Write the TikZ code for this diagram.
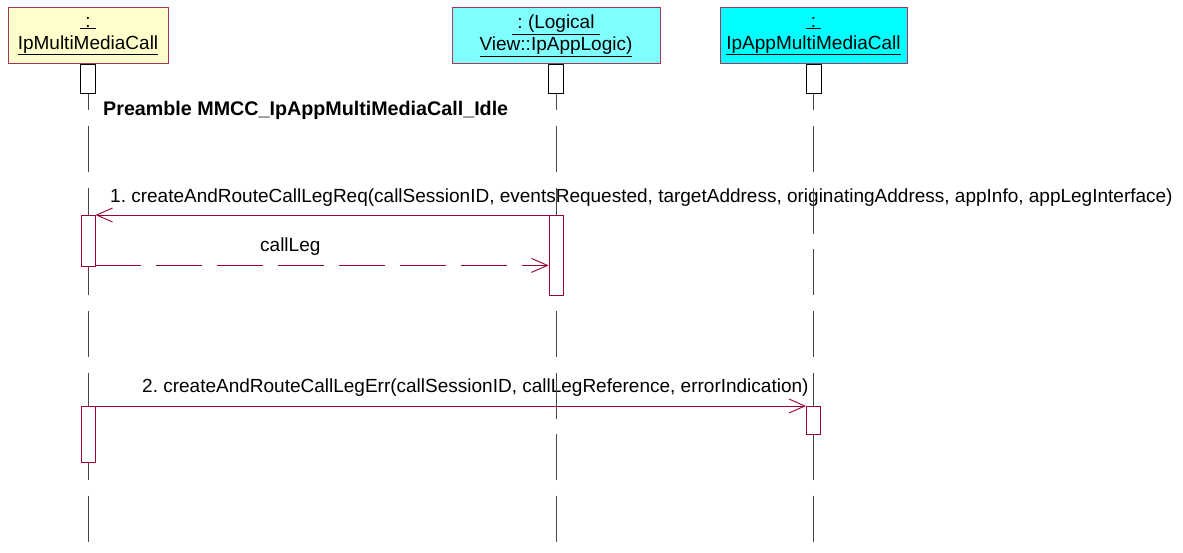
\documentclass[tikz,border=0pt]{standalone}
\usepackage{fontspec}
\setmainfont{Liberation Sans}
\usetikzlibrary{arrows.meta}
\definecolor{umlred}{RGB}{153,0,51}
\definecolor{boxyellow}{RGB}{255,255,204}
\definecolor{boxcyanlight}{RGB}{128,255,255}
\definecolor{boxcyan}{RGB}{0,255,255}
\definecolor{lifegray}{RGB}{70,70,70}
\tikzset{
  objbox/.style={draw=umlred!80!white, line width=1pt, minimum height=56pt, inner sep=0pt, align=center,
    font=\fontsize{19}{22}\selectfont},
  headbox/.style={draw=black, fill=white, line width=0.8pt, minimum width=15pt, minimum height=29pt, inner sep=0pt},
  actbox/.style={draw=umlred, fill=white, line width=0.9pt, minimum width=14pt, inner sep=0pt},
  lifeline/.style={draw=lifegray, line width=0.9pt, dash pattern=on 46pt off 15.6pt},
  msg/.style={draw=umlred, line width=0.9pt, -{Straight Barb[length=16pt,width=14pt,line width=0.9pt]}},
  retmsg/.style={msg, dash pattern=on 46pt off 15pt},
  lbl/.style={font=\fontsize{19}{22}\selectfont, inner sep=0pt, anchor=base west},
  boldlbl/.style={font=\fontsize{19.7}{22}\selectfont\bfseries, inner sep=0pt, anchor=base west}
}
\frenchspacing
\begin{document}
\begin{tikzpicture}[x=1pt,y=-1pt]
\useasboundingbox (0,0) rectangle (1183,553);
% object boxes
\node[objbox, fill=boxyellow, minimum width=160pt] (o1) at (88,36) {\underline{\ :\ }\\\underline{IpMultiMediaCall}};
\node[objbox, fill=boxcyanlight, minimum width=208pt] (o2) at (556,36) {\underline{\ :\ (Logical\ }\\\underline{View::IpAppLogic)}};
\node[objbox, fill=boxcyan, minimum width=187pt] (o3) at (813.5,36) {\underline{\ :\ }\\\underline{IpAppMultiMediaCall}};
% lifeline ends
\coordinate (e1) at (88,542);
\coordinate (e2) at (556,542);
\coordinate (e3) at (813.5,542);
% labels
\node[boldlbl] (pre) at (103,116) {Preamble MMCC\_IpAppMultiMediaCall\_Idle};
\node[lbl] (l1) at (110,203) {1. createAndRouteCallLegReq(callSessionID, eventsRequested, targetAddress, originatingAddress, appInfo, appLegInterface)};
\node[lbl] (l2) at (260,252) {callLeg};
\node[lbl] (l3) at (142,392) {2. createAndRouteCallLegErr(callSessionID, callLegReference, errorIndication)};
% lifelines
\draw[lifeline] (o1.south) -- (e1);
\draw[lifeline] (o2.south) -- (e2);
\draw[lifeline] (o3.south) -- (e3);
% head boxes
\node[headbox, anchor=north] (h1) at (o1.south) {};
\node[headbox, anchor=north] (h2) at (o2.south) {};
\node[headbox, anchor=north] (h3) at (o3.south) {};
% activation boxes
\node[actbox, minimum height=51pt, anchor=north] (a1) at (88,215) {};
\node[actbox, minimum height=80pt, anchor=north] (b1) at (556,215) {};
\node[actbox, minimum height=56pt, anchor=north] (a2) at (88,406) {};
\node[actbox, minimum height=28pt, anchor=north] (c1) at (813.5,406) {};
% messages
\draw[msg] (b1.north west) -- (a1.north east);
\draw[retmsg] ([yshift=1.5pt]a1.south east) -- ([yshift=1.5pt]a1.south east -| b1.west);
\draw[msg] (a2.north east) -- (c1.north west);
\end{tikzpicture}
\end{document}
